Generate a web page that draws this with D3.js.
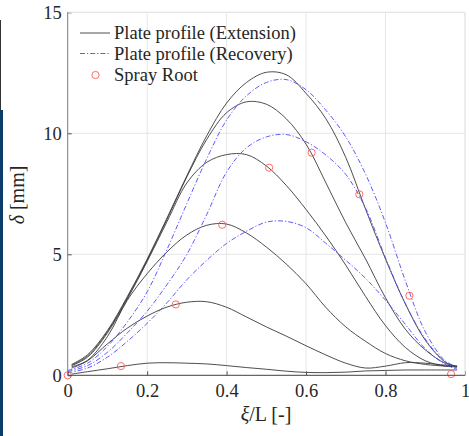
<!DOCTYPE html>
<html>
<head>
<meta charset="utf-8">
<script src="https://cdn.jsdelivr.net/npm/d3@7"></script>
<style>
  html, body { margin: 0; padding: 0; background: #fff; }
  svg { display: block; }
  text { font-family: "Liberation Serif", "DejaVu Serif", serif; fill: #262626; }
</style>
</head>
<body>
<svg id="chart" width="469" height="436"></svg>
<script>
// Abscissa sampling for each family of profiles
const xExtension = [0.01, 0.05, 0.10, 0.15, 0.20, 0.25, 0.30, 0.35, 0.40, 0.45, 0.50,
                    0.55, 0.60, 0.65, 0.70, 0.75, 0.80, 0.85, 0.90, 0.95, 0.98];
const xRecovery  = [0.00, 0.05, 0.10, 0.15, 0.20, 0.25, 0.30, 0.35, 0.40, 0.45, 0.50,
                    0.55, 0.60, 0.65, 0.70, 0.75, 0.80, 0.85, 0.90, 0.95, 0.98];

// Plate profile (Extension) - black solid
const ext1 = [0.05, 0.15, 0.27, 0.40, 0.50, 0.52, 0.50, 0.47, 0.40, 0.32, 0.25, 0.17, 0.12, 0.11, 0.13, 0.18, 0.20, 0.22, 0.22, 0.22, 0.22];
const ext2 = [0.30, 0.60, 1.30, 1.95, 2.45, 2.82, 3.02, 3.04, 2.81, 2.41, 2.00, 1.62, 1.22, 0.84, 0.50, 0.30, 0.38, 0.52, 0.50, 0.42, 0.38];
const ext3 = [0.35, 0.62, 1.60, 3.10, 4.20, 5.10, 5.80, 6.20, 6.25, 5.88, 5.30, 4.60, 3.78, 2.80, 2.00, 1.40, 0.90, 0.60, 0.45, 0.38, 0.36];
const ext4 = [0.40, 0.75, 1.75, 3.15, 4.70, 6.35, 7.95, 8.80, 9.12, 9.12, 8.65, 7.85, 6.85, 5.75, 4.55, 3.25, 2.05, 1.15, 0.60, 0.38, 0.35];
const ext5 = [0.42, 0.80, 1.80, 3.20, 4.75, 6.45, 8.20, 9.75, 10.85, 11.30, 11.20, 10.60, 9.55, 7.95, 6.30, 4.80, 3.20, 1.90, 1.05, 0.50, 0.38];
const ext6 = [0.45, 0.85, 1.85, 3.25, 4.80, 6.50, 8.25, 9.90, 11.25, 12.10, 12.52, 12.42, 11.65, 10.60, 9.00, 6.85, 4.80, 2.95, 1.45, 0.55, 0.35];

// Plate profile (Recovery) - blue dash-dot
const rec1 = [0.10, 0.30, 0.75, 1.40, 2.15, 3.00, 3.95, 4.75, 5.45, 5.95, 6.33, 6.36, 6.10, 5.45, 4.75, 4.00, 3.10, 2.10, 1.10, 0.45, 0.25];
const rec2 = [0.15, 0.40, 0.95, 1.75, 2.65, 3.75, 5.00, 6.65, 8.40, 9.40, 9.85, 9.95, 9.65, 9.10, 8.30, 6.90, 4.85, 2.95, 1.50, 0.55, 0.30];
const rec3 = [0.20, 0.50, 1.20, 2.20, 3.45, 5.20, 7.10, 8.95, 10.55, 11.55, 12.10, 12.22, 11.80, 10.95, 9.85, 8.30, 6.30, 3.90, 1.80, 0.60, 0.35];

// Spray root positions
const rootX = [0, 0.134, 0.272, 0.389, 0.507, 0.614, 0.734, 0.86, 0.965];
const rootY = [0, 0.38, 2.93, 6.22, 8.58, 9.20, 7.48, 3.29, 0.05];

const xTicks = [0, 0.2, 0.4, 0.6, 0.8, 1];
const yTicks = [0, 5, 10, 15];
const legendLabels = ['Plate profile (Extension)', 'Plate profile (Recovery)', 'Spray Root'];

const svg = d3.select('#chart');

// bordo scuro a sinistra (resto della finestra)
svg.append('rect').attr('x', 0).attr('y', 110).attr('width', 3).attr('height', 326).attr('fill', '#0d3b6b');
svg.append('line').attr('x1', 0.5).attr('x2', 0.5).attr('y1', 20).attr('y2', 110).attr('stroke', '#333').attr('stroke-width', 1);

const x = d3.scaleLinear().domain([0, 1]).range([67.7, 465]);
const y = d3.scaleLinear().domain([0, 15]).range([375.3, 12.3]);

// griglia
const grid = svg.append('g');
grid.selectAll('.gx').data(xTicks.slice(1)).enter().append('line')
    .attr('x1', d => x(d)).attr('x2', d => x(d))
    .attr('y1', y(0)).attr('y2', y(15))
    .attr('stroke', '#e6e6e6').attr('stroke-width', 1);
grid.selectAll('.gy').data(yTicks.slice(1)).enter().append('line')
    .attr('x1', x(0)).attr('x2', x(1))
    .attr('y1', d => y(d)).attr('y2', d => y(d))
    .attr('stroke', '#e6e6e6').attr('stroke-width', 1);

// curve
const line = d3.line()
    .x(d => x(d[0]))
    .y(d => y(d[1]))
    .curve(d3.curveCatmullRom.alpha(0.5));

const plot = svg.append('g');
[ext1, ext2, ext3, ext4, ext5, ext6].forEach(vals => {
    plot.append('path')
        .datum(xExtension.map((v, i) => [v, vals[i]]))
        .attr('fill', 'none')
        .attr('stroke', '#3a3a3a')
        .attr('stroke-width', 0.9)
        .attr('d', line);
});
[rec1, rec2, rec3].forEach(vals => {
    plot.append('path')
        .datum(xRecovery.map((v, i) => [v, vals[i]]))
        .attr('fill', 'none')
        .attr('stroke', '#4a4aff')
        .attr('stroke-width', 0.9)
        .attr('stroke-dasharray', '5,2,1.2,2')
        .attr('d', line);
});

plot.selectAll('.root').data(rootX).enter().append('circle')
    .attr('cx', d => x(d))
    .attr('cy', (d, i) => y(rootY[i]))
    .attr('r', 3.6)
    .attr('fill', 'none')
    .attr('stroke', '#ff5a5a')
    .attr('stroke-width', 0.9);

// assi
const xAxis = d3.axisBottom(x).tickValues(xTicks).tickSize(-4).tickPadding(9)
    .tickFormat(d => d === 0 || d === 1 ? String(d) : d.toFixed(1));
const yAxis = d3.axisLeft(y).tickValues(yTicks).tickSize(-4).tickPadding(6);

const gx = svg.append('g').attr('transform', `translate(0,${y(0)})`).call(xAxis);
const gy = svg.append('g').attr('transform', `translate(${x(0)},0)`).call(yAxis);
[gx, gy].forEach(g => {
    g.select('.domain').remove();
    g.selectAll('.tick line').attr('stroke', '#555');
    g.selectAll('.tick text').attr('font-size', 18.5).attr('fill', '#262626')
        .style('font-family', '"Liberation Serif", serif');
});
gx.selectAll('.tick text').attr('dy', '0.71em');

// cornice: alto e destra chiari, sinistra e basso scuri
svg.append('line').attr('x1', x(0)).attr('x2', x(1)).attr('y1', y(15)).attr('y2', y(15)).attr('stroke', '#e6e6e6');
svg.append('line').attr('x1', x(1)).attr('x2', x(1)).attr('y1', y(0)).attr('y2', y(15)).attr('stroke', '#e6e6e6');
svg.append('line').attr('x1', x(0)).attr('x2', x(0)).attr('y1', y(0)).attr('y2', y(15)).attr('stroke', '#7a7a7a');
svg.append('line').attr('x1', x(0)).attr('x2', x(1)).attr('y1', y(0)).attr('y2', y(0)).attr('stroke', '#404040');

// etichette degli assi
const xl = svg.append('text')
    .attr('x', 266).attr('y', 421)
    .attr('text-anchor', 'middle')
    .attr('font-size', 20);
xl.append('tspan').attr('font-style', 'italic').text('ξ');
xl.append('tspan').text('/L [-]');

const yl = svg.append('text')
    .attr('transform', 'translate(24,195) rotate(-90)')
    .attr('text-anchor', 'middle')
    .attr('font-size', 20);
yl.append('tspan').attr('font-style', 'italic').text('δ');
yl.append('tspan').text(' [mm]');

// legenda
const legend = svg.append('g');
const rows = [33, 53.5, 75];
legend.append('line').attr('x1', 80).attr('x2', 110).attr('y1', rows[0]).attr('y2', rows[0])
    .attr('stroke', '#3a3a3a').attr('stroke-width', 0.9);
legend.append('line').attr('x1', 80).attr('x2', 110).attr('y1', rows[1]).attr('y2', rows[1])
    .attr('stroke', '#4a4aff').attr('stroke-width', 0.9).attr('stroke-dasharray', '5,2,1.2,2');
legend.append('circle').attr('cx', 95.5).attr('cy', rows[2]).attr('r', 3.6)
    .attr('fill', 'none').attr('stroke', '#ff5a5a').attr('stroke-width', 0.9);
legend.selectAll('.lt').data(legendLabels).enter().append('text')
    .attr('x', 114)
    .attr('y', (d, i) => rows[i])
    .attr('dy', '0.35em')
    .attr('font-size', 18.5)
    .text(d => d);
</script>
</body>
</html>
